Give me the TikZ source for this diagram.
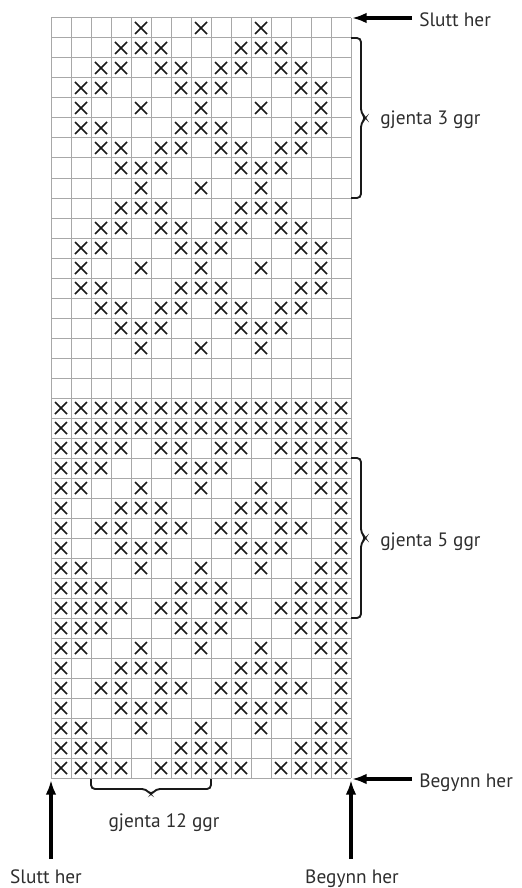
\documentclass[tikz,border=0pt]{standalone}
\usepackage{fontspec}
\setmainfont{PT Sans}
\usetikzlibrary{arrows.meta}
\definecolor{gridgray}{HTML}{A8A8A8}
\definecolor{txtgray}{HTML}{2E2E2E}
\tikzset{
  gridline/.style={draw=gridgray,line width=0.75pt},
  xmark/.style={draw=black!90,line width=1.1pt},
  bracket/.style={draw=black!90,line width=1.4pt,rounded corners=3pt},
  pointer/.style={draw=black,line width=2.3pt,-{Latex[length=11pt,width=8pt]}},
  lbl/.style={text=txtgray,font=\fontsize{14.5}{16}\selectfont,inner sep=0pt,anchor=base west},
  lblc/.style={lbl,anchor=base}
}
\begin{document}
\begin{tikzpicture}[x=0.75pt,y=-0.75pt]
\useasboundingbox (0,0) rectangle (521,888);
% grid
\foreach \i in {0,...,15} \draw[gridline] (51+20*\i,18) -- (51+20*\i,778);
\foreach \j in {0,...,38} \draw[gridline] (51,18+20*\j) -- (351,18+20*\j);
% crosses
\foreach \r/\cols in {
 1/{5,8,11},
 2/{4,5,6,10,11,12},
 3/{3,4,6,7,9,10,12,13},
 4/{2,3,7,8,9,13,14},
 5/{2,5,8,11,14},
 6/{2,3,7,8,9,13,14},
 7/{3,4,6,7,9,10,12,13},
 8/{4,5,6,10,11,12},
 9/{5,8,11},
 10/{4,5,6,10,11,12},
 11/{3,4,6,7,9,10,12,13},
 12/{2,3,7,8,9,13,14},
 13/{2,5,8,11,14},
 14/{2,3,7,8,9,13,14},
 15/{3,4,6,7,9,10,12,13},
 16/{4,5,6,10,11,12},
 17/{5,8,11},
 20/{1,2,3,4,5,6,7,8,9,10,11,12,13,14,15},
 21/{1,2,3,4,5,6,7,8,9,10,11,12,13,14,15},
 22/{1,2,3,4,6,7,9,10,12,13,14,15},
 23/{1,2,3,7,8,9,13,14,15},
 24/{1,2,5,8,11,14,15},
 25/{1,4,5,6,10,11,12,15},
 26/{1,3,4,6,7,9,10,12,13,15},
 27/{1,4,5,6,10,11,12,15},
 28/{1,2,5,8,11,14,15},
 29/{1,2,3,7,8,9,13,14,15},
 30/{1,2,3,4,6,7,9,10,12,13,14,15},
 31/{1,2,3,7,8,9,13,14,15},
 32/{1,2,5,8,11,14,15},
 33/{1,4,5,6,10,11,12,15},
 34/{1,3,4,6,7,9,10,12,13,15},
 35/{1,4,5,6,10,11,12,15},
 36/{1,2,5,8,11,14,15},
 37/{1,2,3,7,8,9,13,14,15},
 38/{1,2,3,4,6,7,8,9,10,12,13,14,15}}
 {\foreach \c in \cols {
   \draw[xmark] ({41+20*\c-6},{8+20*\r-6}) -- ++(12,12)
                ({41+20*\c-6},{8+20*\r+6}) -- ++(12,-12);
 }}
% corners
\coordinate (TR) at (352,18);
\coordinate (BRr) at (352,779);
\coordinate (BRb) at (351,780);
\coordinate (BLb) at (51,780);
% labels
\node[lbl] (sluttTop) at (419,26.5) {Slutt her};
\node[lbl] (begynnRight) at (419,787.5) {Begynn her};
\node[lbl] (rep3) at (380,125) {gjenta 3 ggr};
\node[lbl] (rep5) at (380,546) {gjenta 5 ggr};
\node[lblc] (rep12) at (164,827) {gjenta 12 ggr};
\node[lblc] (sluttBottom) at (46,883) {Slutt her};
\node[lblc] (begynnBottom) at (352,883) {Begynn her};
% arrows
\coordinate (a1) at (412,18);
\coordinate (a2) at (412,779);
\coordinate (a3) at (351,859);
\coordinate (a4) at (51,859);
\draw[pointer] (a1) -- (TR);
\draw[pointer] (a2) -- (BRr);
\draw[pointer] (a3) -- (BRb);
\draw[pointer] (a4) -- (BLb);
% brackets
\draw[bracket] (351,38) -- (361,38) -- (361,113) -- (366,118) -- (361,123) -- (361,198) -- (351,198);
\draw[bracket] (351,458) -- (361,458) -- (361,533) -- (366,538) -- (361,543) -- (361,618) -- (351,618);
\draw[bracket] (91,779) -- (91,789) -- (146,789) -- (151,795) -- (156,789) -- (211,789) -- (211,779);
\end{tikzpicture}
\end{document}
